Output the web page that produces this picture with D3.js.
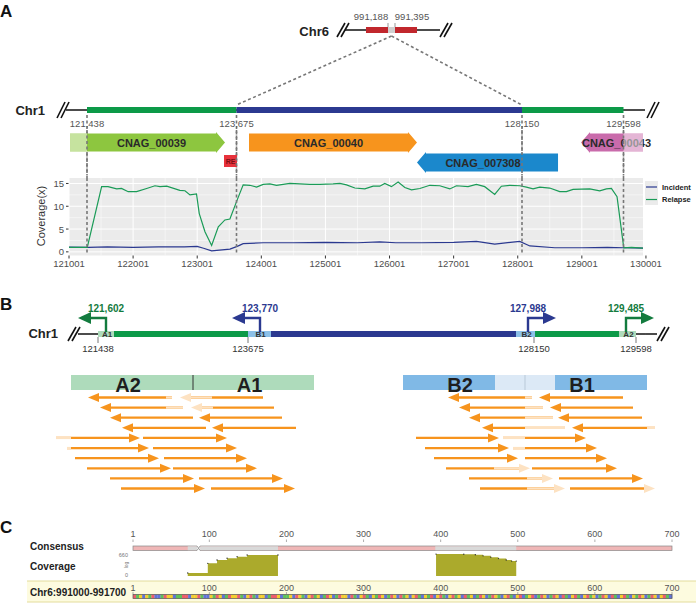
<!DOCTYPE html>
<html><head><meta charset="utf-8">
<script src="https://cdn.jsdelivr.net/npm/d3@7"></script>
<style>body{margin:0;background:#fff}svg{display:block}text{font-family:"Liberation Sans",Arial,sans-serif}</style>
</head><body><svg id="c" width="696" height="605"></svg>
<script>
// ================= DATA =================
// Panel A - Chr6
const chr6Ticks = [991188, 991395];
const chr6TickLabels = ["991,188", "991,395"];
const chr6Flanks = [[990537, 991188], [991395, 992046]];
const chr6Span = [989916, 992726];
// Panel A - Chr1
const chr1Breaks = [121438, 123675, 128150, 129598];
const chr1BreakLabels = ["121,438", "123,675", "128,150", "129,598"];
const chr1Span = [121124, 129905];
const chr1Segments = [[121438, 123675, "dup"], [123675, 128150, "ins"], [128150, 129598, "dup"]];
const geneNames = ["CNAG_00039", "CNAG_00040", "CNAG_007308", "CNAG_00043"];
const geneStart = [121184, 123871, 126504, 128992];
const geneEnd = [123503, 126504, 128664, 129876];
const geneStrand = [1, 1, -1, -1];
const geneRow = [0, 0, 1, 0];
const geneColors = ["#8dc63f", "#f7941d", "#1b88cc", "#c96bab"];
const reElement = [123488, 123683];
// Panel A - coverage
const covXTicks = [121001, 122001, 123001, 124001, 125001, 126001, 127001, 128001, 129001, 130001];
const covYTicks = [0, 5, 10, 15];
const relapsePos = [121001,121286,121510,121610,121745,121820,121925,122055,122212,122342,122420,122525,122730,122810,122888,122990,123033,123122,123226,123330,123433,123511,123625,123718,123822,123927,124030,124135,124238,124342,124446,124602,124758,124913,125121,125226,125330,125460,125616,125745,125849,125927,126031,126135,126240,126344,126474,126630,126785,126941,127045,127226,127356,127486,127642,127746,127876,128032,128136,128240,128344,128500,128656,128760,128864,129124,129280,129384,129462,129550,129655,129774,129955];
const relapseVal = [1.0,1.0,14.3,14.3,13.8,13.9,13.2,13.2,13.9,14.5,14.3,14.4,13.5,13.4,12.5,12.7,8.4,4.4,1.4,5.5,7.0,7.2,11.4,14.7,14.6,14.2,14.8,14.9,14.6,14.8,15.0,14.9,14.8,14.8,14.9,15.0,14.7,14.0,13.8,14.4,14.4,15.0,14.3,15.3,14.1,13.6,13.9,14.6,14.5,13.8,14.5,14.3,14.8,14.3,12.6,14.4,14.6,14.5,14.2,13.8,14.2,14.0,13.2,13.2,13.7,13.8,13.4,13.8,13.9,12.1,0.9,1.0,0.8];
const incidentPos = [121001,121300,121600,122000,122400,122800,123000,123100,123226,123511,123625,123718,124030,124500,125000,125500,125849,126100,126500,127000,127356,127642,128032,128190,128580,129000,129400,129655,129955];
const incidentVal = [1.05,1.0,1.1,1.0,1.1,1.1,1.2,0.8,0.2,0.6,1.2,1.8,2.0,2.0,2.1,2.0,2.2,2.0,2.0,2.1,2.3,1.7,2.3,1.3,0.9,0.9,1.0,0.9,0.8];
const seriesNames = ["Incident", "Relapse"];
// Panel B
const chr1BKnots = [121438, 121602, 123675, 123770, 127988, 128150, 129485, 129598];
const chr1BSpan = [121028, 129700];
const chr1BLabels = ["121438", "123675", "128150", "129598"];
const promoterPos = [121602, 123770, 127988, 129485];
const promoterLabels = ["121,602", "123,770", "127,988", "129,485"];
const promoterDir = [-1, -1, 1, 1];
const promoterType = ["dup", "ins", "ins", "dup"];
const repeatNames = ["A1", "B1", "B2", "A2"];
const repeatStart = [121438, 123675, 127799, 129383];
const repeatEnd = [121719, 123943, 128165, 129598];
const repeatType = ["dup", "ins", "ins", "dup"];
const barAParts = [[0, 122, "A2"], [122, 243, "A1"]];
const barBParts = [[0, 122, "B2"], [122, 244, "B1"]];
const barBFaded = [92, 152];
// reads: [row, tail, tip, clipFrom, clipTo]
const readsA = [
  [0,101,17,95,101],[0,192,109,109,141],
  [1,112,29,95,112],[1,203,120,120,142],
  [2,122,39],[2,211,128],
  [3,135,51],[3,225,141],
  [4,-15,69,-15,0],[4,72,156],
  [5,-4,78,-4,0],[5,82,166],
  [6,4,88],[6,93,176],
  [7,16,100],[7,102,186],
  [8,39,123],[8,128,212],
  [9,50,134],[9,140,224]];
const readsB = [
  [0,129,45,122,129],[0,220,136],
  [1,140,56,122,140],[1,230,147],
  [2,150,66,122,150],[2,239,155],
  [3,162,79,122,162],[3,252,169,244,252],
  [4,13,96],[4,100,183,100,122],
  [5,22,106],[5,110,194,110,122],
  [6,31,115],[6,122,204],
  [7,43,127,91,127],[7,129,214],
  [8,66,150,124,150],[8,156,240],
  [9,77,162,124,162],[9,167,252,244,252]];
// Panel C
const consTicks = [1, 100, 200, 300, 400, 500, 600, 700];
const consGray = [[72, 84], [88, 189], [393, 498]];
const consNotch = [84, 88];
const cov1Pos = [72, 98, 110, 123, 136, 149, 189];
const cov1Val = [1.4, 41, 111, 186, 298, 493, 493];
const cov2Pos = [394, 430, 445, 455, 465, 475, 485, 492, 498];
const cov2Val = [640, 620, 520, 380, 260, 170, 110, 80, 80];
const seqString = "ATGCGTACCTAGGCTTAACGGATCCGTAGCTAGGATCGATCGGCTAAGCTTGCAGTCGATGCTAGCTAGGCATCGATCGTAGCTAGCATGCGATCGTACGATCGATGCATGCTAGCTAGTCGATCGACTGACTAGCTAGCATCGATCGATGCTAGCATCGATCGTAGCTAGCGATC";

// ================= DRAW =================
const svg = d3.select("#c");
const C = {dup: "#0c9a48", ins: "#2b3990", dupDark: "#137b3e", orange: "#f7941d", faded: "#fde2c2"};
const gray = "#777";
const geneLabelDx = [0, 0, -9, 0];

function slash(g, x, y, s) {
  s = s || 7;
  [0, 4].forEach(d => g.append("line").attr("x1", x + d - 4).attr("y1", y + s).attr("x2", x + d + 4).attr("y2", y - s)
    .attr("stroke", "#111").attr("stroke-width", 1.6));
}
function label(g, t, x, y, o) {
  o = o || {};
  return g.append("text").attr("x", x).attr("y", y).text(t)
    .attr("font-size", o.size || 10).attr("font-weight", o.weight || "normal")
    .attr("fill", o.fill || "#222").attr("text-anchor", o.anchor || "middle");
}
// panel letters
label(svg, "A", 0, 17, {size: 17, weight: "bold", anchor: "start", fill: "#111"});
label(svg, "B", 0, 310, {size: 17, weight: "bold", anchor: "start", fill: "#111"});
label(svg, "C", 0, 533, {size: 17, weight: "bold", anchor: "start", fill: "#111"});

// ---- Chr6 ----
const gA = svg.append("g");
const x6 = d3.scaleLinear().domain(chr6Ticks).range([388, 395]);
const y6 = 30;
gA.append("line").attr("x1", x6(chr6Span[0])).attr("x2", x6(chr6Span[1])).attr("y1", y6).attr("y2", y6).attr("stroke", "#111").attr("stroke-width", 1.5);
chr6Flanks.forEach(f => gA.append("rect").attr("x", x6(f[0])).attr("width", x6(f[1]) - x6(f[0])).attr("y", y6 - 3).attr("height", 6).attr("fill", "#c1272d"));
gA.append("rect").attr("x", x6(chr6Ticks[0])).attr("width", x6(chr6Ticks[1]) - x6(chr6Ticks[0])).attr("y", y6 - 3).attr("height", 6).attr("fill", "#cfcfcf");
chr6Ticks.forEach((t, i) => {
  gA.append("line").attr("x1", x6(t)).attr("x2", x6(t)).attr("y1", y6 - 7).attr("y2", y6 - 3).attr("stroke", "#999").attr("stroke-width", 1);
  label(gA, chr6TickLabels[i], x6(t) + (i === 0 ? -17 : 17), 20, {size: 9.5, fill: "#555"});
});
slash(gA, x6(chr6Span[0]) - 4, y6);
slash(gA, x6(chr6Span[1]) + 4, y6);
label(gA, "Chr6", x6(chr6Span[0]) - 16, 36, {size: 13, weight: "bold", anchor: "end"});

// ---- Chr1 (A) ----
const xA = d3.scaleLinear().domain(chr1Breaks).range([87, 236.5, 522, 623.5]);
const yA = 110;
const jx = (x6(chr6Ticks[0]) + x6(chr6Ticks[1])) / 2;
[chr1Breaks[1], chr1Breaks[2]].forEach(b => gA.append("line").attr("x1", jx).attr("y1", y6 + 6).attr("x2", xA(b)).attr("y2", yA - 5)
  .attr("stroke", gray).attr("stroke-width", 1.6).attr("stroke-dasharray", "3,2.5"));
gA.append("line").attr("x1", xA(chr1Span[0])).attr("x2", xA(chr1Span[1])).attr("y1", yA).attr("y2", yA).attr("stroke", "#111").attr("stroke-width", 1.5);
chr1Segments.forEach(s => gA.append("rect").attr("x", xA(s[0])).attr("width", xA(s[1]) - xA(s[0])).attr("y", yA - 3).attr("height", 6).attr("fill", C[s[2]]));
slash(gA, xA(chr1Span[0]) - 5, yA, 8);
slash(gA, xA(chr1Span[1]) + 6, yA, 8);
label(gA, "Chr1", 45, 115, {size: 13, weight: "bold", anchor: "end"});
// dashed verticals
chr1Breaks.forEach(b => gA.append("line").attr("x1", xA(b)).attr("x2", xA(b)).attr("y1", yA + 5).attr("y2", 254)
  .attr("stroke", gray).attr("stroke-width", 1.6).attr("stroke-dasharray", "3,2.5"));
chr1Breaks.forEach((b, i) => label(gA, chr1BreakLabels[i], xA(b), 127, {size: 9.5, fill: "#555"}));

// genes
function geneShape(x0, x1, yc, h, dir, head) {
  const t = yc - h / 2, b = yc + h / 2;
  if (dir > 0) return `M${x0},${t}L${x1 - head},${t}L${x1 - head},${t - 1.5}L${x1},${yc}L${x1 - head},${b + 1.5}L${x1 - head},${b}L${x0},${b}Z`;
  return `M${x1},${t}L${x0 + head},${t}L${x0 + head},${t - 1.5}L${x0},${yc}L${x0 + head},${b + 1.5}L${x0 + head},${b}L${x1},${b}Z`;
}
const rowY = [142.5, 162.5];
geneNames.forEach((n, i) => {
  const x0 = xA(geneStart[i]), x1 = xA(geneEnd[i]), yc = rowY[geneRow[i]];
  gA.append("path").attr("d", geneShape(x0, x1, yc, 18, geneStrand[i], 9)).attr("fill", geneColors[i]);
  const body = geneStrand[i] > 0 ? [Math.max(x0, xA(chr1Breaks[0])), x1 - 9] : [x0 + 9, x1];
  label(gA, n, (body[0] + body[1]) / 2 + geneLabelDx[i], yc + 4, {size: 11, weight: "bold", fill: "#2a2a2a"});
});
// parts outside the region, lightened
[[geneStart[0], chr1Breaks[0], 0], [chr1Breaks[3], geneEnd[3], 0]].forEach(s => {
  gA.append("rect").attr("x", xA(s[0])).attr("width", xA(s[1]) - xA(s[0])).attr("y", rowY[s[2]] - 9).attr("height", 18)
    .attr("fill", "#fff").attr("opacity", 0.5);
});
gA.append("rect").attr("x", xA(reElement[0])).attr("width", xA(reElement[1]) - xA(reElement[0])).attr("y", 155).attr("height", 12).attr("fill", "#e8323c");
label(gA, "RE", (xA(reElement[0]) + xA(reElement[1])) / 2, 163.5, {size: 7, weight: "bold", fill: "#7a1015"});
// redraw dashed lines over genes region so they show through
chr1Breaks.forEach(b => gA.append("line").attr("x1", xA(b)).attr("x2", xA(b)).attr("y1", 130).attr("y2", 175)
  .attr("stroke", gray).attr("stroke-width", 1.6).attr("stroke-dasharray", "3,2.5"));

// ---- coverage plot ----
const gC = svg.append("g");
const xc = d3.scaleLinear().domain([121001, 129955]).range([69, 643]);
const yc = d3.scaleLinear().domain([-0.8, 16.2]).range([255.5, 178]);
gC.append("rect").attr("x", 69).attr("y", 178).attr("width", 574).attr("height", 77.5).attr("fill", "#ebebeb");
// minor grid
for (let i = 0; i < covYTicks.length - 1; i++) {
  const v = (covYTicks[i] + covYTicks[i + 1]) / 2;
  gC.append("line").attr("x1", 69).attr("x2", 643).attr("y1", yc(v)).attr("y2", yc(v)).attr("stroke", "#fff").attr("stroke-width", 0.5);
}
for (let i = 0; i < covXTicks.length - 1; i++) {
  const v = (covXTicks[i] + covXTicks[i + 1]) / 2;
  if (xc(v) < 643) gC.append("line").attr("x1", xc(v)).attr("x2", xc(v)).attr("y1", 178).attr("y2", 255.5).attr("stroke", "#fff").attr("stroke-width", 0.5);
}
covYTicks.forEach(v => {
  gC.append("line").attr("x1", 69).attr("x2", 643).attr("y1", yc(v)).attr("y2", yc(v)).attr("stroke", "#fff").attr("stroke-width", 1);
  gC.append("line").attr("x1", 66).attr("x2", 69).attr("y1", yc(v)).attr("y2", yc(v)).attr("stroke", "#333").attr("stroke-width", 1);
  label(gC, v, 64, yc(v) + 3.5, {size: 9.5, fill: "#4d4d4d", anchor: "end"});
});
covXTicks.forEach(v => {
  if (xc(v) <= 643) gC.append("line").attr("x1", xc(v)).attr("x2", xc(v)).attr("y1", 178).attr("y2", 255.5).attr("stroke", "#fff").attr("stroke-width", 1);
  gC.append("line").attr("x1", xc(v)).attr("x2", xc(v)).attr("y1", 255.5).attr("y2", 258.5).attr("stroke", "#333").attr("stroke-width", 1);
  label(gC, v, xc(v), 267, {size: 9.5, fill: "#4d4d4d"});
});
const lineGen = d3.line().x(d => xc(d[0])).y(d => yc(d[1]));
gC.append("path").attr("d", lineGen(incidentPos.map((p, i) => [p, incidentVal[i]]))).attr("fill", "none").attr("stroke", C.ins).attr("stroke-width", 1.2);
gC.append("path").attr("d", lineGen(relapsePos.map((p, i) => [p, relapseVal[i]]))).attr("fill", "none").attr("stroke", "#1a9b57").attr("stroke-width", 1.2);
// dashed verticals over the plot
chr1Breaks.forEach(b => gC.append("line").attr("x1", xA(b)).attr("x2", xA(b)).attr("y1", 178).attr("y2", 254)
  .attr("stroke", gray).attr("stroke-width", 1.6).attr("stroke-dasharray", "3,2.5"));
gC.append("text").attr("transform", "translate(45,216) rotate(-90)").attr("text-anchor", "middle")
  .attr("font-size", 11).attr("fill", "#333").text("Coverage(x)");
// legend
gC.append("rect").attr("x", 645).attr("y", 181).attr("width", 13).attr("height", 24).attr("fill", "#ebebeb");
[C.ins, "#1a9b57"].forEach((col, i) => {
  const ly = 187 + i * 12.5;
  gC.append("line").attr("x1", 646).attr("x2", 657).attr("y1", ly).attr("y2", ly).attr("stroke", col).attr("stroke-width", 1.2);
  label(gC, seriesNames[i], 662, ly + 2.8, {size: 7.5, weight: "bold", anchor: "start", fill: "#222"});
});

// ---- Panel B ----
const gB = svg.append("g");
const xB = d3.scaleLinear().domain(chr1BKnots).range([98, 106, 248, 260, 528, 534, 626, 636]);
const yB = 334;
gB.append("line").attr("x1", xB(chr1BSpan[0])).attr("x2", xB(chr1BSpan[1])).attr("y1", yB).attr("y2", yB).attr("stroke", "#111").attr("stroke-width", 1.5);
chr1Segments.forEach(s => gB.append("rect").attr("x", xB(s[0])).attr("width", xB(s[1]) - xB(s[0])).attr("y", yB - 3).attr("height", 6).attr("fill", C[s[2]]));
const repCol = {dup: "#aedbbb", ins: "#8cc0e8"};
repeatNames.forEach((n, i) => {
  gB.append("rect").attr("x", xB(repeatStart[i])).attr("width", xB(repeatEnd[i]) - xB(repeatStart[i])).attr("y", yB - 3).attr("height", 6).attr("fill", repCol[repeatType[i]]);
  label(gB, n, (xB(repeatStart[i]) + xB(repeatEnd[i])) / 2 + 1, yB + 3, {size: 8, fill: "#333", weight: "bold"});
});
slash(gB, xB(chr1BSpan[0]) - 6, yB, 7);
slash(gB, xB(chr1BSpan[1]) + 16, yB, 7);
gB.append("line").attr("x1", xB(chr1BSpan[1])).attr("x2", xB(chr1BSpan[1]) + 12).attr("y1", yB).attr("y2", yB).attr("stroke", "#111").attr("stroke-width", 1.5);
label(gB, "Chr1", 58, 338, {size: 13, weight: "bold", anchor: "end"});
chr1Breaks.forEach((b, i) => {
  gB.append("line").attr("x1", xB(b)).attr("x2", xB(b)).attr("y1", yB + 3).attr("y2", yB + 9).attr("stroke", "#555").attr("stroke-width", 0.8);
  label(gB, chr1BLabels[i], xB(b), 352, {size: 9.5, fill: "#333"});
});
promoterPos.forEach((p, i) => {
  const x = xB(p), d = promoterDir[i], col = promoterType[i] === "dup" ? C.dupDark : C.ins;
  const yTop = 318, tip = x + d * 28, hb = tip - d * 13;
  gB.append("path").attr("d", `M${x},${yB - 2}L${x},${yTop}L${hb},${yTop}`).attr("fill", "none").attr("stroke", col).attr("stroke-width", 2.4);
  gB.append("path").attr("d", `M${hb},${yTop - 6}L${tip},${yTop}L${hb},${yTop + 6}Z`).attr("fill", col);
  label(gB, promoterLabels[i], x, 312, {size: 10, weight: "bold", fill: col});
});

// junction bars
const scaleRA = d3.scaleLinear().domain([0, 243]).range([71, 314]);
const scaleRB = d3.scaleLinear().domain([0, 244]).range([403, 647]);
const rowYs = d3.scaleLinear().domain([0, 9]).range([397.5, 488.5]);
function junctionBar(sc, parts, col, fadedPart) {
  parts.forEach(p => gB.append("rect").attr("x", sc(p[0])).attr("width", sc(p[1]) - sc(p[0])).attr("y", 375).attr("height", 15).attr("fill", col));
  if (fadedPart) gB.append("rect").attr("x", sc(fadedPart[0])).attr("width", sc(fadedPart[1]) - sc(fadedPart[0])).attr("y", 375).attr("height", 15).attr("fill", "#dce9f6");
  gB.append("line").attr("x1", sc(parts[1][0])).attr("x2", sc(parts[1][0])).attr("y1", 375).attr("y2", 390).attr("stroke", fadedPart ? "#b9c9d8" : "#333").attr("stroke-width", 1);
  parts.forEach(p => label(gB, p[2], (sc(p[0]) + sc(p[1])) / 2 - 4, 392, {size: 20, weight: "bold", fill: "#1e1e1e"}));
}
junctionBar(scaleRA, barAParts, "#aedbbb", null);
junctionBar(scaleRB, barBParts, "#80b9e6", barBFaded);
function drawReads(sc, reads) {
  const g = gB.append("g");
  reads.forEach(r => {
    const y = rowYs(r[0]), tail = sc(r[1]), tip = sc(r[2]), d = tip > tail ? 1 : -1, hb = tip - d * 11;
    g.append("line").attr("x1", tail).attr("x2", hb).attr("y1", y).attr("y2", y).attr("stroke", C.orange).attr("stroke-width", 2.3);
    let tipFaded = false;
    if (r.length > 3) {
      const a = sc(r[3]), b = sc(r[4]);
      const lo = Math.max(Math.min(a, b), Math.min(tail, hb)), hi = Math.min(Math.max(a, b), Math.max(tail, hb));
      if (hi > lo) g.append("line").attr("x1", lo).attr("x2", hi).attr("y1", y).attr("y2", y).attr("stroke", C.faded).attr("stroke-width", 2.3);
      tipFaded = (r[2] >= Math.min(r[3], r[4]) && r[2] <= Math.max(r[3], r[4]));
    }
    g.append("path").attr("d", `M${hb},${y - 4.5}L${tip},${y}L${hb},${y + 4.5}Z`).attr("fill", tipFaded ? C.faded : C.orange);
  });
}
drawReads(scaleRA, readsA);
drawReads(scaleRB, readsB);

// ---- Panel C ----
const gP = svg.append("g");
const xP = d3.scaleLinear().domain([1, 700]).range([133, 672]);
consTicks.forEach(t => {
  label(gP, t, xP(t), 537, {size: 9, fill: "#555"});
  gP.append("line").attr("x1", xP(t)).attr("x2", xP(t)).attr("y1", 539.5).attr("y2", 542).attr("stroke", "#999").attr("stroke-width", 0.8);
});
label(gP, "Consensus", 30, 550, {size: 10, weight: "bold", anchor: "start"});
label(gP, "Coverage", 30, 570, {size: 10, weight: "bold", anchor: "start"});
gP.append("rect").attr("x", xP(1)).attr("y", 546).attr("width", xP(700) - xP(1)).attr("height", 4.5).attr("fill", "#efb6b6").attr("stroke", "#888").attr("stroke-width", 0.7);
consGray.forEach(s => gP.append("rect").attr("x", xP(s[0])).attr("y", 546.3).attr("width", xP(s[1]) - xP(s[0])).attr("height", 3.9).attr("fill", "#d9d9d9"));
gP.append("rect").attr("x", xP(consNotch[0])).attr("y", 545).attr("width", xP(consNotch[1]) - xP(consNotch[0])).attr("height", 6.5).attr("fill", "#fff");
gP.append("path").attr("d", `M${xP(consNotch[0])},546L${xP(consNotch[0]) + 1.5},548.2L${xP(consNotch[0])},550.5M${xP(consNotch[1])},546L${xP(consNotch[1]) - 1.5},548.2L${xP(consNotch[1])},550.5`).attr("fill", "none").attr("stroke", "#777").attr("stroke-width", 0.7);
// coverage (log)
const yP = d3.scaleLog().domain([1, 661]).range([576, 554]);
const area = d3.area().x(d => xP(d[0])).y0(576).y1(d => yP(d[1] + 1)).curve(d3.curveStepAfter);
[[cov1Pos, cov1Val], [cov2Pos, cov2Val]].forEach(([ps, vs]) => {
  const dat = ps.map((p, i) => [p, vs[i]]);
  gP.append("path").attr("d", area(dat)).attr("fill", "#abaa2c");
  dat.forEach(d => gP.append("circle").attr("cx", xP(d[0])).attr("cy", yP(d[1] + 1)).attr("r", 0.7).attr("fill", "#333"));
});
label(gP, "660", 128, 557, {size: 5.5, fill: "#777", anchor: "end"});
gP.append("text").attr("transform", "translate(127.5,565) rotate(-90)").attr("text-anchor", "middle").attr("font-size", 5).attr("fill", "#777").text("log");
label(gP, "0", 128, 577, {size: 5.5, fill: "#777", anchor: "end"});
// reference band
gP.append("rect").attr("x", 27).attr("y", 581).attr("width", 669).attr("height", 21).attr("fill", "#fdfbdf");
gP.append("line").attr("x1", 27).attr("x2", 696).attr("y1", 581).attr("y2", 581).attr("stroke", "#e3dc9c").attr("stroke-width", 1);
gP.append("line").attr("x1", 27).attr("x2", 696).attr("y1", 602).attr("y2", 602).attr("stroke", "#e3dc9c").attr("stroke-width", 1);
label(gP, "Chr6:991000-991700", 30, 596, {size: 10, weight: "bold", anchor: "start"});
consTicks.forEach(t => {
  label(gP, t, xP(t), 591, {size: 9, fill: "#555"});
  gP.append("line").attr("x1", xP(t)).attr("x2", xP(t)).attr("y1", 592).attr("y2", 594).attr("stroke", "#999").attr("stroke-width", 0.8);
});
const baseCol = {A: "#ee5d6c", C: "#6173d8", G: "#f3cd2e", T: "#5fc159"};
const seqScale = d3.scaleLinear().domain([0, seqString.length]).range([xP(1), xP(700)]);
seqString.split("").forEach((b, i) => gP.append("rect").attr("x", seqScale(i)).attr("width", seqScale(i + 1) - seqScale(i) + 0.2)
  .attr("y", 594.5).attr("height", 4).attr("fill", baseCol[b]));
gP.append("rect").attr("x", xP(1)).attr("y", 594.5).attr("width", xP(700) - xP(1)).attr("height", 4).attr("fill", "none").attr("stroke", "#555").attr("stroke-width", 0.7);
</script></body></html>
